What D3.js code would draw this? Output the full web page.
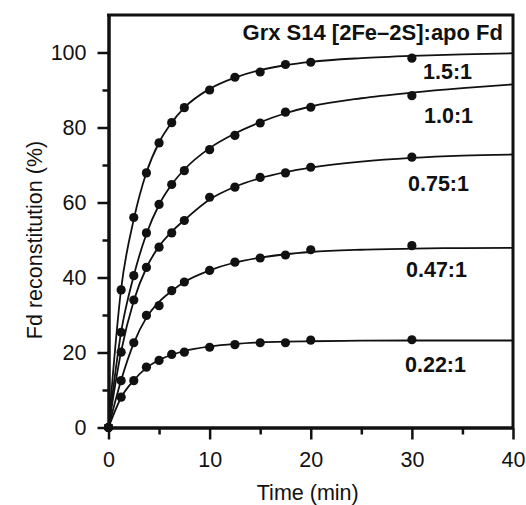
<!DOCTYPE html>
<html>
<head>
<meta charset="utf-8">
<script src="https://cdn.jsdelivr.net/npm/d3@7"></script>
<style>
  html, body { margin: 0; padding: 0; background: #fff; }
  svg { display: block; font-family: "Liberation Sans", Arial, sans-serif; }
</style>
</head>
<body>
<div id="chart"></div>
<script>
// Sampling times (min) of the measured points
const times = [0, 1.25, 2.5, 3.75, 5, 6.25, 7.5, 10, 12.5, 15, 17.5, 20, 30];

// Measured Fd reconstitution (%) for each Grx S14 : apo Fd ratio
const ratios = ['1.5:1', '1.0:1', '0.75:1', '0.47:1', '0.22:1'];
const points150 = [0, 36.7, 56.0, 67.9, 75.9, 81.3, 85.3, 90.0, 93.4, 94.8, 96.8, 97.4, 98.5];
const points100 = [0, 25.4, 40.5, 51.9, 59.5, 64.8, 68.5, 74.1, 77.9, 81.2, 84.1, 85.4, 88.5];
const points075 = [0, 20.1, 34.0, 42.7, 48.1, 51.9, 55.2, 61.4, 64.1, 66.7, 67.9, 69.4, 72.1];
const points047 = [0, 12.5, 22.6, 29.9, 32.5, 36.5, 38.8, 41.9, 44.1, 45.2, 46.0, 47.4, 48.5];
const points022 = [0, 8.1, 12.5, 16.1, 17.9, 19.5, 20.1, 21.4, 22.1, 22.6, 22.6, 23.3, 23.4];

// Fitted curves at these times
const fitTimes = [0, 1.25, 2.5, 3.75, 5, 6.25, 7.5, 10, 12.5, 15, 17.5, 20, 25, 30, 35, 40];
const fit150 = [0, 37, 55.5, 68, 76, 81.3, 85.3, 90.3, 93.3, 95.3, 96.6, 97.5, 98.5, 99.1, 99.5, 99.8];
const fit100 = [0, 25.5, 40.5, 51.6, 59.4, 64.8, 68.8, 74.5, 78.4, 81.4, 83.8, 85.6, 87.8, 89.3, 90.5, 91.5];
const fit075 = [0, 20.3, 33.8, 42.6, 48.3, 52.2, 55.3, 60.8, 64.2, 66.5, 68.1, 69.3, 70.9, 71.9, 72.5, 72.8];
const fit047 = [0, 12.6, 22.5, 29.3, 33.5, 36.4, 38.8, 41.9, 44.0, 45.3, 46.2, 46.8, 47.4, 47.7, 47.85, 47.9];
const fit022 = [0, 8.0, 12.6, 15.9, 18.0, 19.4, 20.4, 21.6, 22.3, 22.7, 22.9, 23.0, 23.15, 23.2, 23.2, 23.2];

// Axis ticks
const xTicks = [0, 10, 20, 30, 40];
const xMinorTicks = [5, 15, 25, 35];
const yTicks = [0, 20, 40, 60, 80, 100];
const yMinorTicks = [10, 30, 50, 70, 90];

const title = 'Grx S14 [2Fe\u20132S]:apo Fd';

// Layout
const width = 526;
const height = 505;
const plot = { left: 108.5, right: 513, top: 15, bottom: 427.5 };
// where each ratio label sits (pixels: x start, baseline)
const labelPos = [[423, 78.5], [424, 123], [408, 190.5], [406, 276.5], [405, 371.5]];

const pointSets = [points150, points100, points075, points047, points022];
const fitSets = [fit150, fit100, fit075, fit047, fit022];

const svg = d3.select('#chart')
    .append('svg')
    .attr('width', width)
    .attr('height', height);

const x = d3.scaleLinear().domain([0, 40]).range([plot.left, plot.right]);
const y = d3.scaleLinear().domain([0, 110]).range([plot.bottom, plot.top]);

// fitted curves
const line = d3.line()
    .x((d) => x(d[0]))
    .y((d) => y(d[1]))
    .curve(d3.curveMonotoneX);

svg.append('g')
    .selectAll('path')
    .data(fitSets)
    .join('path')
    .attr('d', (vals) => line(fitTimes.map((t, i) => [t, vals[i]])))
    .attr('fill', 'none')
    .attr('stroke', '#111')
    .attr('stroke-width', 1.8);

// minor ticks first
svg.append('g')
    .attr('class', 'axis')
    .attr('transform', `translate(0,${plot.bottom})`)
    .call(d3.axisBottom(x).tickValues(xMinorTicks).tickSize(7).tickSizeOuter(0).tickFormat(''));

svg.append('g')
    .attr('class', 'axis')
    .attr('transform', `translate(${plot.left},0)`)
    .call(d3.axisLeft(y).tickValues(yMinorTicks).tickSize(6).tickSizeOuter(0).tickFormat(''));

// major ticks with labels
svg.append('g')
    .attr('class', 'axis')
    .attr('transform', `translate(0,${plot.bottom})`)
    .call(d3.axisBottom(x).tickValues(xTicks).tickSize(12).tickSizeOuter(0).tickPadding(12));

svg.append('g')
    .attr('class', 'axis')
    .attr('transform', `translate(${plot.left},0)`)
    .call(d3.axisLeft(y).tickValues(yTicks).tickSize(11).tickSizeOuter(0).tickPadding(11));

svg.selectAll('.axis path.domain').attr('stroke', '#111').attr('stroke-width', 3);
svg.selectAll('.axis .tick line').attr('stroke', '#111').attr('stroke-width', 2.5);
svg.selectAll('.axis text')
    .attr('fill', '#111')
    .style('font-size', '21.5px')
    .style('font-family', '"Liberation Sans", Arial, sans-serif');

// frame: top and right sides
svg.append('path')
    .attr('d', `M${plot.left - 1.5},${plot.top}H${plot.right}V${plot.bottom}`)
    .attr('fill', 'none')
    .attr('stroke', '#111')
    .attr('stroke-width', 3);

// data points
svg.append('g')
    .selectAll('g')
    .data(pointSets)
    .join('g')
    .selectAll('circle')
    .data((vals) => vals.map((v, i) => [times[i], v]))
    .join('circle')
    .attr('cx', (d) => x(d[0]))
    .attr('cy', (d) => y(d[1]))
    .attr('r', 4.6)
    .attr('fill', '#111');

// axis titles
svg.append('text')
    .attr('x', (plot.left + plot.right) / 2 - 3)
    .attr('y', 500)
    .attr('text-anchor', 'middle')
    .style('font-size', '21.5px')
    .attr('fill', '#111')
    .text('Time (min)');

svg.append('text')
    .attr('transform', `translate(42,${y(50)}) rotate(-90)`)
    .attr('text-anchor', 'middle')
    .style('font-size', '21.5px')
    .attr('fill', '#111')
    .text('Fd reconstitution (%)');

// legend title and ratio labels
svg.append('text')
    .attr('x', 503)
    .attr('y', 39.5)
    .attr('text-anchor', 'end')
    .style('font-size', '22px')
    .style('font-weight', 'bold')
    .attr('fill', '#111')
    .text(title);

svg.append('g')
    .selectAll('text')
    .data(ratios)
    .join('text')
    .attr('x', (d, i) => labelPos[i][0])
    .attr('y', (d, i) => labelPos[i][1])
    .style('font-size', '21.5px')
    .style('font-weight', 'bold')
    .attr('fill', '#111')
    .text((d) => d);
</script>
</body>
</html>
